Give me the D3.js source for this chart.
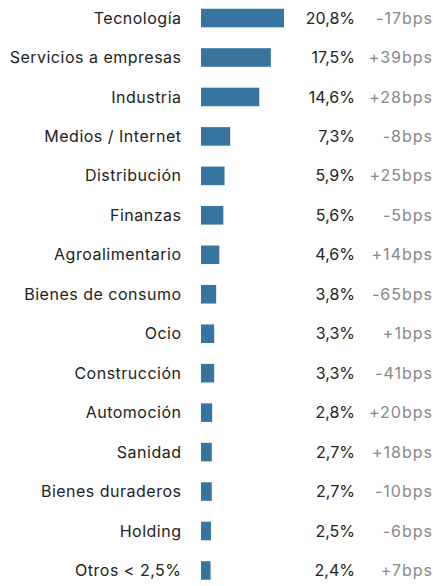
<!DOCTYPE html>
<html>
<head>
<meta charset="utf-8">
<script src="https://cdnjs.cloudflare.com/ajax/libs/d3/7.8.5/d3.min.js"></script>
<style>
    body { margin: 0; background: #fff; }
    text { font-family: Inter, "Noto Sans", sans-serif; }
</style>
</head>
<body>
<svg id="chart" width="433" height="586"></svg>
<script>
    let sectors = ["Tecnología", "Servicios a empresas", "Industria", "Medios / Internet", "Distribución",
        "Finanzas", "Agroalimentario", "Bienes de consumo", "Ocio", "Construcción", "Automoción",
        "Sanidad", "Bienes duraderos", "Holding", "Otros < 2,5%"];
    let shares = [20.8, 17.5, 14.6, 7.3, 5.9, 5.6, 4.6, 3.8, 3.3, 3.3, 2.8, 2.7, 2.7, 2.5, 2.4];
    let changes = [-17, 39, 28, -8, 25, -5, 14, -65, 1, -41, 20, 18, -10, -6, 7];

    let data = sectors.map((s, i) => ({ sector: s, share: shares[i], change: changes[i] }));

    let canvas = d3.select("#chart");

    let xScale = d3.scaleLinear()
        .domain([0, 20.8])
        .range([201, 284]);

    let yScale = d3.scaleBand()
        .domain(sectors)
        .range([-1.5, 590])
        .paddingInner(0.53)
        .paddingOuter(0.26);

    let fmt = d3.format(".1f");
    let pct = d => fmt(d).replace(".", ",") + "%";
    let bps = d => (d > 0 ? "+" : "") + d + "bps";

    let rows = canvas.selectAll("g.row").data(data)
        .enter()
        .append("g")
        .attr("class", "row");

    rows.append("rect")
        .attr("fill", "#37749f")
        .attr("x", xScale(0))
        .attr("y", d => yScale(d.sector))
        .attr("height", yScale.bandwidth())
        .attr("width", d => xScale(d.share) - xScale(0));

    let mid = d => yScale(d.sector) + yScale.bandwidth() / 2;

    rows.append("text")
        .attr("x", 181.5)
        .attr("y", mid)
        .attr("dy", "0.35em")
        .attr("text-anchor", "end")
        .attr("font-size", 16)
        .attr("letter-spacing", 0.5)
        .attr("fill", "#222")
        .text(d => d.sector);

    rows.append("text")
        .attr("x", 355)
        .attr("y", mid)
        .attr("dy", "0.35em")
        .attr("text-anchor", "end")
        .attr("font-size", 16)
        .attr("fill", "#222")
        .text(d => pct(d.share));

    rows.append("text")
        .attr("x", 433)
        .attr("y", mid)
        .attr("dy", "0.35em")
        .attr("text-anchor", "end")
        .attr("font-size", 16)
        .attr("letter-spacing", 1)
        .attr("fill", "#888")
        .text(d => bps(d.change));
</script>
</body>
</html>
